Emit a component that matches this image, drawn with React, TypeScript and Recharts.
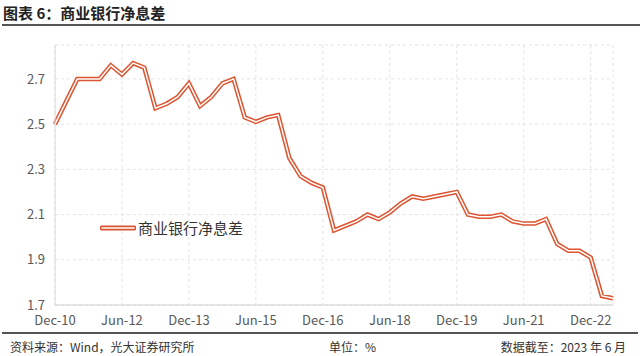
import {LineChart, Line, XAxis, YAxis, CartesianGrid} from 'recharts';

const quarters = [
    'Dec-10', 'Mar-11', 'Jun-11', 'Sep-11', 'Dec-11', 'Mar-12', 'Jun-12', 'Sep-12', 'Dec-12',
    'Mar-13', 'Jun-13', 'Sep-13', 'Dec-13', 'Mar-14', 'Jun-14', 'Sep-14', 'Dec-14',
    'Mar-15', 'Jun-15', 'Sep-15', 'Dec-15', 'Mar-16', 'Jun-16', 'Sep-16', 'Dec-16',
    'Mar-17', 'Jun-17', 'Sep-17', 'Dec-17', 'Mar-18', 'Jun-18', 'Sep-18', 'Dec-18',
    'Mar-19', 'Jun-19', 'Sep-19', 'Dec-19', 'Mar-20', 'Jun-20', 'Sep-20', 'Dec-20',
    'Mar-21', 'Jun-21', 'Sep-21', 'Dec-21', 'Mar-22', 'Jun-22', 'Sep-22', 'Dec-22',
    'Mar-23', 'Jun-23',
];

const nim = [
    2.50, 2.60, 2.70, 2.70, 2.70, 2.76, 2.72, 2.77, 2.75,
    2.57, 2.59, 2.62, 2.68, 2.58, 2.62, 2.68, 2.70,
    2.53, 2.51, 2.53, 2.54, 2.35, 2.27, 2.24, 2.22,
    2.03, 2.05, 2.07, 2.10, 2.08, 2.11, 2.15, 2.18,
    2.17, 2.18, 2.19, 2.20, 2.10, 2.09, 2.09, 2.10,
    2.07, 2.06, 2.06, 2.08, 1.97, 1.94, 1.94, 1.91,
    1.74, 1.73,
];

const yTicks = [1.7, 1.9, 2.1, 2.3, 2.5, 2.7];

const seriesName = '商业银行净息差';
const RED = '#dc5430';
const FONT = '"Noto Sans CJK SC", "Noto Sans", sans-serif';

const data = quarters.map((q, i) => ({q, v: nim[i]}));

function LegendBox() {
    return (
        <div style={{position: 'absolute', left: 100, top: 217, display: 'flex', alignItems: 'center', fontFamily: FONT, fontSize: 15, color: '#333'}}>
            <svg width={36} height={8} style={{marginRight: 2}}>
                <line x1={2} y1={4} x2={34} y2={4} stroke={RED} strokeWidth={5} strokeLinecap="round"/>
                <line x1={2} y1={4} x2={34} y2={4} stroke="#fff" strokeWidth={1.6} strokeLinecap="round"/>
            </svg>
            <span>{seriesName}</span>
        </div>
    );
}

export default function App() {
    return (
        <div style={{position: 'absolute', left: 0, top: 0, width: 640, height: 356, background: '#fff', fontFamily: FONT}}>
            <div style={{position: 'absolute', left: 3, top: 2, fontSize: 15, fontWeight: 'bold', color: '#222'}}>
                图表 6：商业银行净息差
            </div>
            <div style={{position: 'absolute', left: 2, right: 0, top: 24, height: 2, background: '#555'}}/>

            <LineChart
                width={640}
                height={356}
                data={data}
                margin={{top: 45, right: 27, left: 15, bottom: 21}}
                style={{position: 'absolute', left: 0, top: 0}}
            >
                <CartesianGrid stroke="#e3e3e3" strokeDasharray="3 3"/>
                <XAxis
                    dataKey="q"
                    interval={5}
                    tickSize={0}
                    tickMargin={11}
                    height={30}
                    stroke="#d0d0d0"
                    tick={{fill: '#595959', fontSize: 13, fontFamily: FONT}}
                />
                <YAxis
                    domain={[1.7, 2.85]}
                    ticks={yTicks}
                    width={40}
                    tickSize={0}
                    tickMargin={10}
                    stroke="#d9d9d9"
                    tickFormatter={(v: number) => v.toFixed(1)}
                    tick={{fill: '#595959', fontSize: 13, fontFamily: FONT}}
                />
                <Line type="linear" dataKey="v" stroke={RED} strokeWidth={4.5} dot={false} isAnimationActive={false}/>
                <Line type="linear" dataKey="v" stroke="#fff" strokeWidth={1.5} dot={false} isAnimationActive={false}/>
            </LineChart>
            <LegendBox/>

            <div style={{position: 'absolute', left: 2, right: 2, top: 332, height: 2, background: '#555'}}/>
            <div style={{position: 'absolute', left: 10, top: 338, fontSize: 12, color: '#333'}}>资料来源：Wind，光大证券研究所</div>
            <div style={{position: 'absolute', left: 329, top: 338, fontSize: 12, color: '#333'}}>单位：%</div>
            <div style={{position: 'absolute', right: 14, top: 338, fontSize: 12, color: '#333'}}>数据截至：2023 年 6 月</div>
        </div>
    );
}
